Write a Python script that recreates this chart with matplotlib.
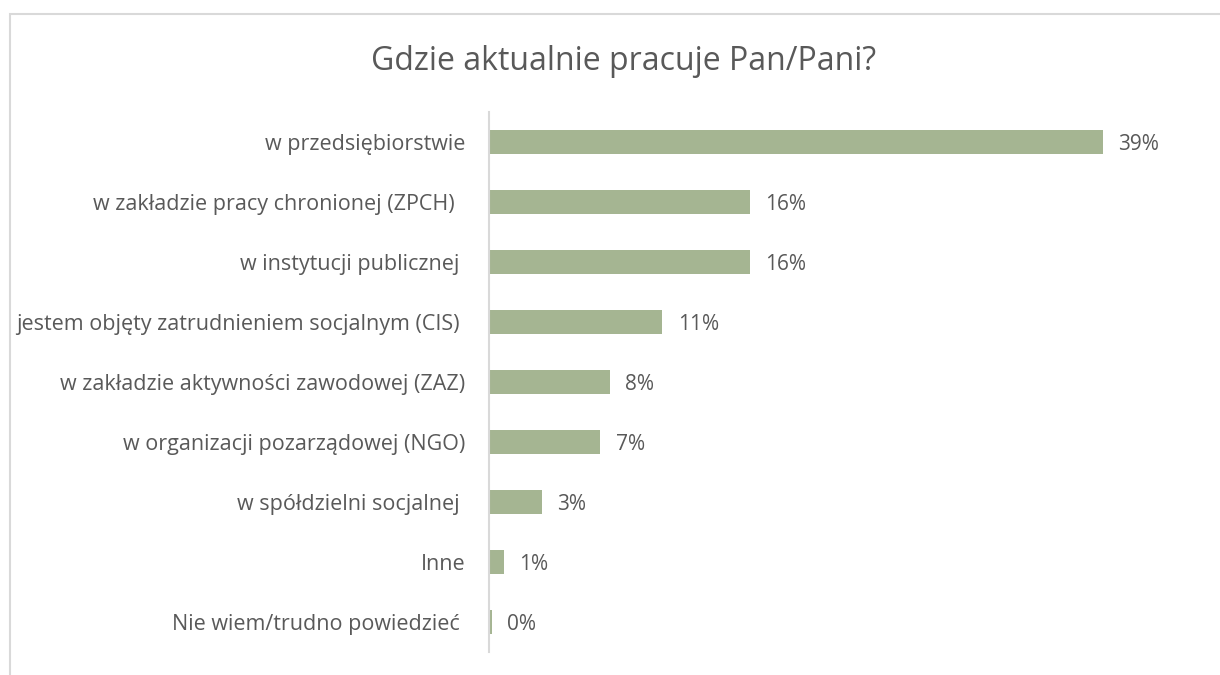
import matplotlib.pyplot as plt
from matplotlib.patches import Rectangle

# survey answers, top to bottom
categories = [
    "w przedsiębiorstwie",
    "w zakładzie pracy chronionej (ZPCH)  ",
    "w instytucji publicznej ",
    "jestem objęty zatrudnieniem socjalnym (CIS) ",
    "w zakładzie aktywności zawodowej (ZAZ)",
    "w organizacji pozarządowej (NGO)",
    "w spółdzielni socjalnej ",
    "Inne",
    "Nie wiem/trudno powiedzieć ",
]
shares = [38.6, 16.4, 16.4, 10.9, 7.6, 7.0, 3.3, 0.94, 0.19]

bar_color = "#A5B592"
text_color = "#595959"
grey_line = "#D9D9D9"

plt.rcParams["font.family"] = ["Open Sans", "DejaVu Sans"]

fig = plt.figure(figsize=(12.2, 6.75), dpi=100)
ax = fig.add_axes([489 / 1220, 23 / 675, 716 / 1220, 540 / 675])

ypos = list(range(len(categories)))
ax.barh(ypos, shares, height=0.4, color=bar_color)
ax.set_ylim(len(categories) - 0.5, -0.5)
ax.set_xlim(0, 45)

for y, v in zip(ypos, shares):
    ax.annotate("{:.0f}%".format(v), (v, y), xytext=(11, -2), textcoords="offset points",
                va="center", ha="left", fontsize=15, color=text_color)

ax.set_yticks(ypos)
ax.set_yticklabels(categories, fontsize=15.5, color=text_color)
ax.tick_params(axis="y", length=0, pad=17)
ax.set_xticks([])
for s in ["top", "right", "bottom"]:
    ax.spines[s].set_visible(False)
ax.spines["left"].set_color(grey_line)
ax.spines["left"].set_linewidth(1.5)

fig.text(624 / 1220, 1 - 62 / 675, "Gdzie aktualnie pracuje Pan/Pani?", ha="center", va="center",
         fontsize=23, color=text_color)

# chart-area border
fig.patches.append(Rectangle((9.5 / 1220, -0.1), 1.2, 1 - 14 / 675 + 0.1, transform=fig.transFigure,
                             fill=False, edgecolor=grey_line, linewidth=1.5, figure=fig))

fig.savefig("out.png", dpi=100, facecolor="white")
